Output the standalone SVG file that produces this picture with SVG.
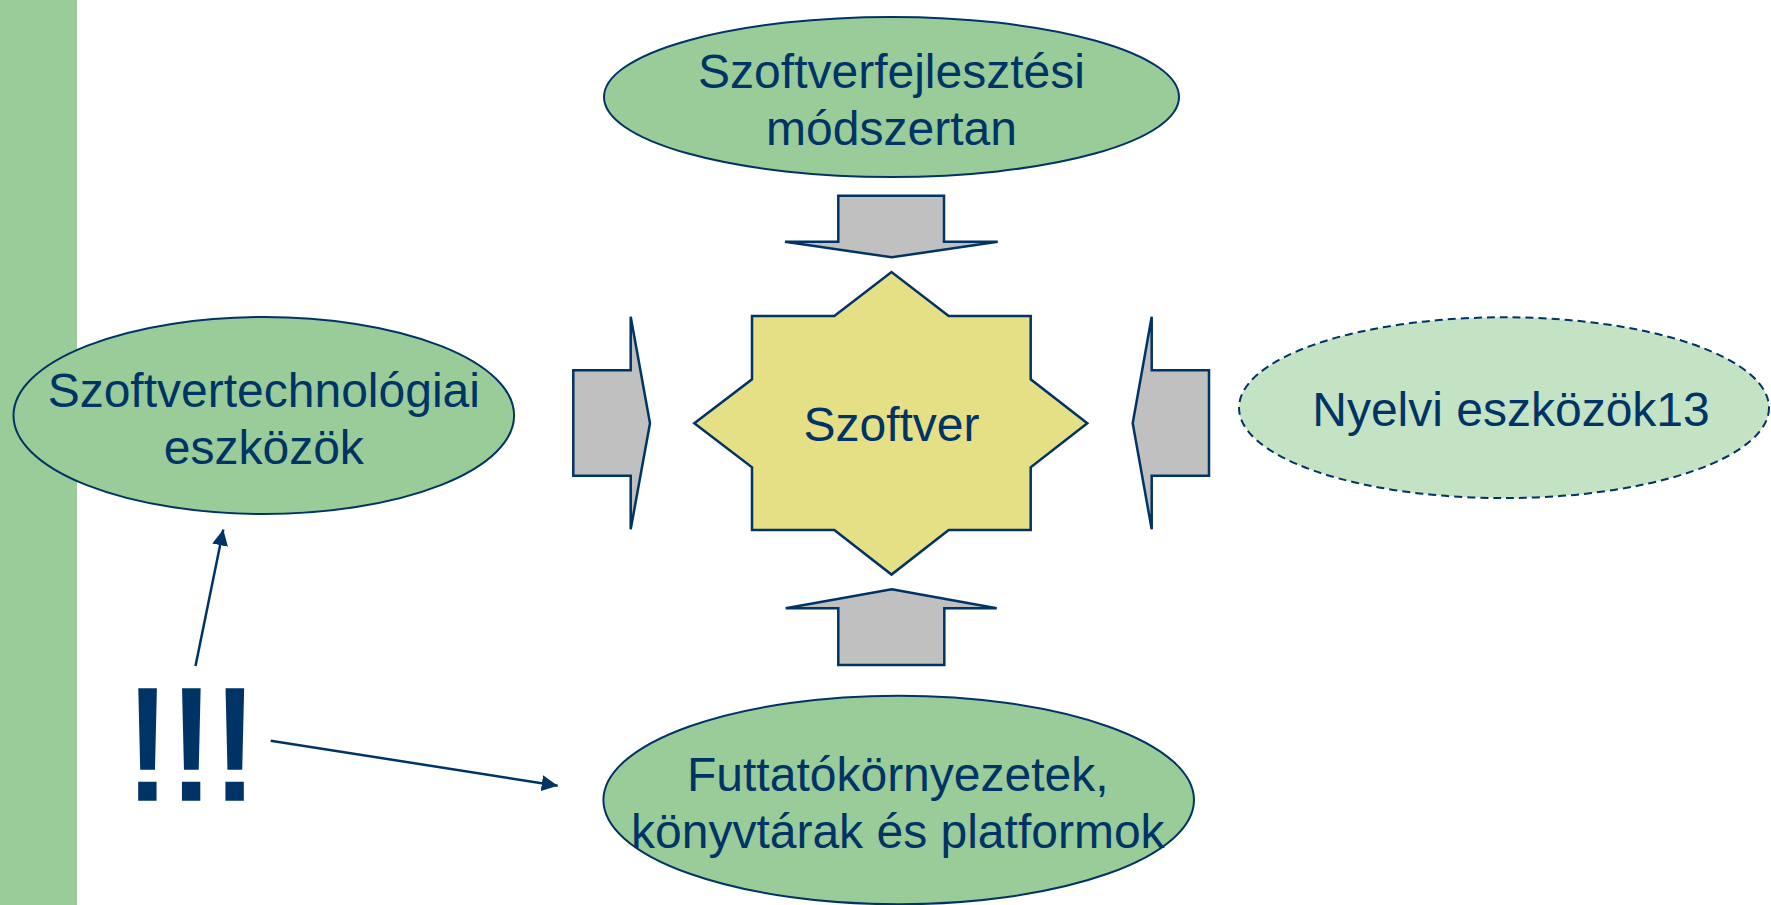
<svg xmlns="http://www.w3.org/2000/svg" width="1771" height="905" viewBox="0 0 1771 905">
<style>
.node{fill:#99CC99;stroke:#003366;stroke-width:2}
.light{fill:#C4E2C4;stroke:#003366;stroke-width:2;stroke-dasharray:8 5}
.star{fill:#E5E085;stroke:#003366;stroke-width:2.5;stroke-linejoin:miter}
.block{fill:#C0C0C0;stroke:#003366;stroke-width:2.5;stroke-linejoin:miter}
.lbl{font-family:"Liberation Sans",Arial,sans-serif;font-size:48px;fill:#003366;text-anchor:middle}
.line{stroke:#003366;stroke-width:2.5;fill:none}
</style>
<defs>
<marker id="ah" markerUnits="userSpaceOnUse" markerWidth="16" markerHeight="16" viewBox="0 0 16 16" refX="16" refY="8" orient="auto">
<path d="M0,0 L16,8 L0,16 z" fill="#003366"/>
</marker>
</defs>
<rect x="0" y="0" width="77" height="905" fill="#99CC99"/>
<g id="connectors">
<path class="block" d="M838.3,195.7 L944,195.7 L944,241.7 L997.7,241.7 L891.7,257.3 L785,241.7 L838.3,241.7 Z"/>
<path class="block" d="M891.7,589.3 L996.7,608.3 L944.3,608.3 L944.3,665 L838.3,665 L838.3,608.3 L785.7,608.3 Z"/>
<path class="block" d="M573.3,370.3 L630.7,370.3 L630.7,316.7 L650,423.3 L630.7,529.3 L630.7,475.7 L573.3,475.7 Z"/>
<path class="block" d="M1209,370.3 L1151.7,370.3 L1151.7,316.7 L1132.7,423.3 L1151.7,529.3 L1151.7,475.7 L1209,475.7 Z"/>
<line class="line" x1="195.5" y1="666" x2="223.3" y2="529.5" marker-end="url(#ah)"/>
<line class="line" x1="270.7" y1="740.7" x2="557.7" y2="785.7" marker-end="url(#ah)"/>
</g>
<g id="node-top">
<ellipse class="node" cx="891.5" cy="97" rx="287.5" ry="80"/>
<text class="lbl" x="891.5" y="88">Szoftverfejlesztési</text>
<text class="lbl" x="891.5" y="145">módszertan</text>
</g>
<g id="node-left">
<ellipse class="node" cx="263.8" cy="415.5" rx="250.3" ry="98.5"/>
<text class="lbl" x="263.8" y="406.5">Szoftvertechnológiai</text>
<text class="lbl" x="263.8" y="463.5">eszközök</text>
</g>
<g id="node-right">
<ellipse class="light" cx="1504" cy="407.7" rx="265" ry="90.4"/>
<text class="lbl" x="1511" y="426">Nyelvi eszközök13</text>
</g>
<g id="node-bottom">
<ellipse class="node" cx="898.7" cy="800" rx="295.3" ry="104.3"/>
<text class="lbl" x="897.8" y="790.7">Futtatókörnyezetek,</text>
<text class="lbl" x="897.8" y="847.7">könyvtárak és platformok</text>
</g>
<g id="node-center">
<polygon class="star" points="752,316 834.3,316 891.5,272 948.7,316 1030.7,316 1030.7,379.3 1087.3,423.3 1030.7,467.3 1030.7,530 948.7,530 891.5,574.6 834.3,530 752,530 752,467.3 694.3,423.3 752,379.3"/>
<text class="lbl" x="891.5" y="441">Szoftver</text>
</g>
<g id="node-exclaim">
<text x="191.2" y="798.5" font-family="'Liberation Sans',Arial,sans-serif" font-size="157" fill="#003366" stroke="#003366" stroke-width="3.5" stroke-linejoin="miter" text-anchor="middle">!!!</text>
</g>
</svg>
